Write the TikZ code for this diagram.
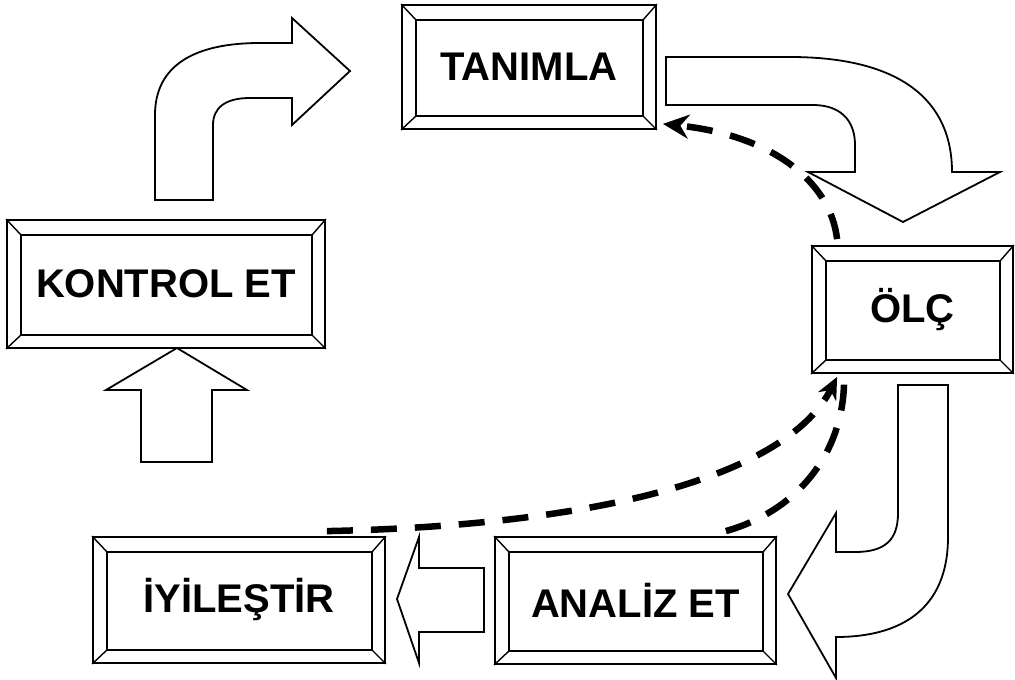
\documentclass[tikz,border=0pt]{standalone}
\usepackage{fontspec}
\setmainfont{Liberation Sans}
\usetikzlibrary{calc,arrows.meta}
\begin{document}
\begin{tikzpicture}[x=1pt,y=-1pt,
  box/.style={draw, line width=1.8pt, fill=white, rectangle, inner sep=0pt,
    font=\fontsize{40}{40}\selectfont\bfseries},
  bev/.style={line width=1.4pt},
  blockarrow/.style={draw, line width=1.8pt, fill=white, line join=miter},
  dashline/.style={line width=6.5pt, dash pattern=on 26pt off 18pt},
]
\useasboundingbox (0,0) rectangle (1015,680);

% block arrows
\draw[blockarrow] (155,200) -- (155,115) .. controls (155,65) and (195,43) .. (260,43)
  -- (292,43) -- (292,18) -- (350,71) -- (292,125) -- (292,98) -- (250,98)
  .. controls (225,98) and (213,108) .. (213,125) -- (213,200) -- cycle;
\draw[blockarrow] (666,57) -- (790,57) .. controls (900,57) and (952,100) .. (952,172)
  -- (1000,172) -- (903,222) -- (808,172) -- (855,172) -- (855,145)
  .. controls (855,120) and (840,105) .. (813,105) -- (666,105) -- cycle;
\draw[blockarrow] (898,385) -- (948,385) -- (948,537)
  .. controls (948,610) and (900,637) .. (836,637) -- (836,678) -- (788,594)
  -- (836,513) -- (836,552) -- (855,552) .. controls (885,552) and (898,540) .. (898,513) -- cycle;
\draw[blockarrow] (484,568) -- (419,568) -- (419,537) -- (397,599) -- (419,663)
  -- (419,632) -- (484,632) -- cycle;
\draw[blockarrow] (141,462) -- (141,390) -- (106,390) -- (177,348) -- (247,390)
  -- (212,390) -- (212,462) -- cycle;

% boxes
\node[box, minimum width=254pt, minimum height=124pt] (tan) at (529,67) {TANIMLA};
\node[box, minimum width=318pt, minimum height=128pt] (kon) at (166,284) {KONTROL ET};
\node[box, minimum width=201pt, minimum height=127pt] (olc) at (912.5,309.5) {ÖLÇ};
\node[box, minimum width=281pt, minimum height=127pt] (ana) at (635.5,600.5) {ANALİZ ET};
\node[box, minimum width=292pt, minimum height=126pt] (iyi) at (239,600) {İYİLEŞTİR};

\foreach \n in {tan,kon,olc,ana,iyi}{
  \coordinate (\n-a) at ($(\n.north west)+(15,16)$);
  \coordinate (\n-b) at ($(\n.north east)+(-14,16)$);
  \coordinate (\n-c) at ($(\n.south east)+(-14,-14)$);
  \coordinate (\n-d) at ($(\n.south west)+(15,-14)$);
  \draw[bev] (\n-a) -- (\n-b) -- (\n-c) -- (\n-d) -- cycle;
  \draw[bev] (\n.north west) -- (\n-a);
  \draw[bev] (\n.north east) -- (\n-b);
  \draw[bev] (\n.south east) -- (\n-c);
  \draw[bev] (\n.south west) -- (\n-d);
}

% dashed connectors
\coordinate (a1) at ($(olc.north west)+(26,-6)$);
\coordinate (a2) at ($(tan.south east)+(6,-6)$);
\draw[dashline, -{Stealth[length=26pt,width=24pt]}] (a1) .. controls (830,180) and (770,135) .. (a2);

\coordinate (b1) at ($(iyi.north east)+(-59,-5)$);
\coordinate (b2) at ($(olc.south west)+(26,3)$);
\draw[dashline, -{Stealth[length=22pt,width=20pt]}] (b1) .. controls (620,525) and (790,470) .. (b2);

\coordinate (c1) at ($(ana.north east)+(-51,-5)$);
\coordinate (c2) at ($(olc.south west)+(33,3)$);
\draw[dashline] (c1) .. controls (800,510) and (845,450) .. (c2);
\end{tikzpicture}
\end{document}
